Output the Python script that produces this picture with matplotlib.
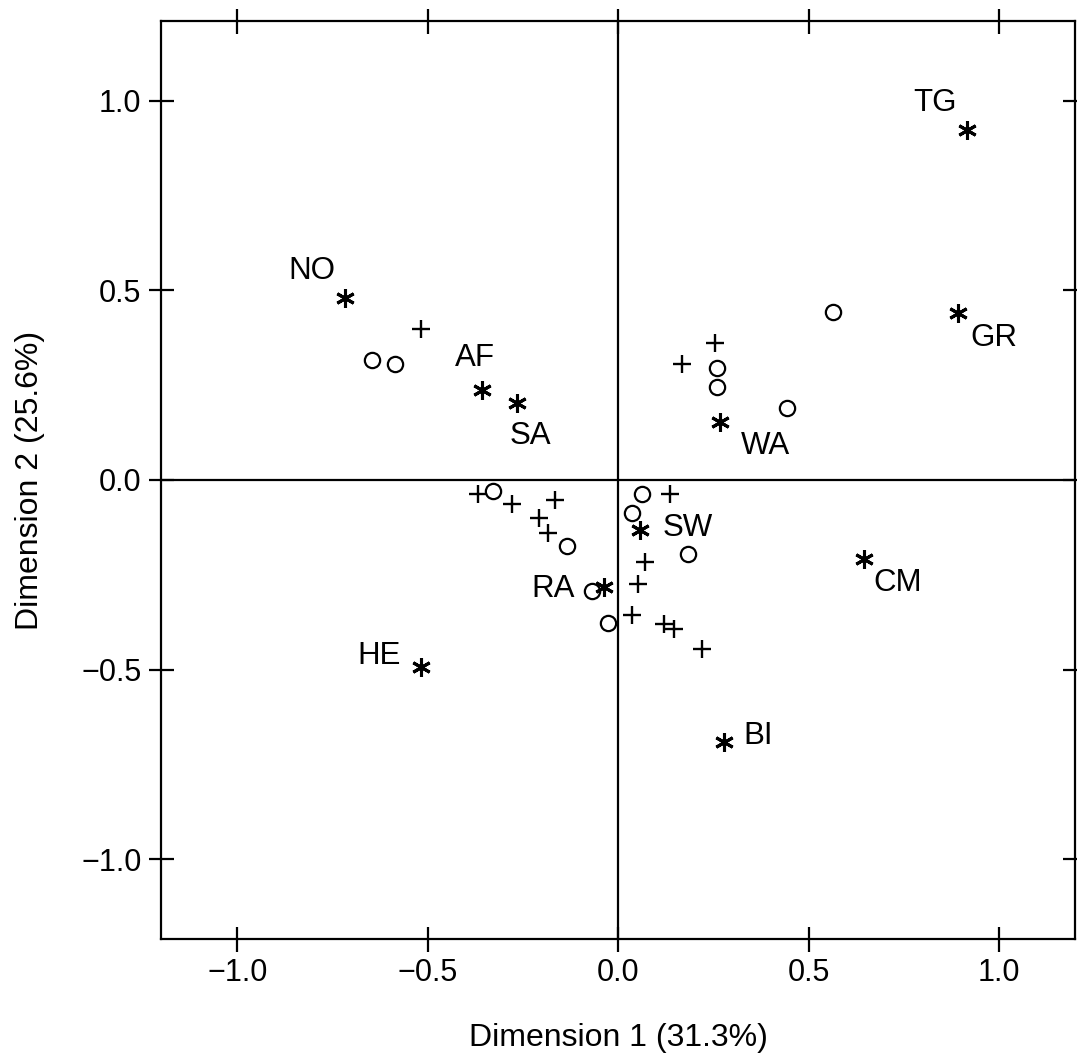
import matplotlib
matplotlib.use("Agg")
import matplotlib.pyplot as plt

plt.rcParams.update({
    "font.family": ["Liberation Sans", "DejaVu Sans"],
    "axes.unicode_minus": True,
})

# labelled points (asterisks)
star_names = ["TG", "NO", "AF", "SA", "WA", "GR", "SW", "CM", "RA", "HE", "BI"]
star_x = [0.915, -0.717, -0.357, -0.265, 0.268, 0.891, 0.058, 0.644, -0.036, -0.518, 0.279]
star_y = [0.922, 0.481, 0.238, 0.203, 0.153, 0.441, -0.133, -0.208, -0.282, -0.494, -0.692]
# label offsets in pixels (dx, dy)
label_dx = [-32, -33, -7, 13, 45, 36, 47, 34, -51, -42, 34]
label_dy = [27, 27, 32, -33, -24, -25, 2, -24, -2, 11, 6]

# plus points
plus_x = [-0.518, 0.255, 0.168, 0.137, -0.368, -0.279, -0.166, -0.208, -0.184,
          0.071, 0.053, 0.037, 0.121, 0.147, 0.221]
plus_y = [0.399, 0.362, 0.306, -0.037, -0.037, -0.064, -0.053, -0.101, -0.139,
          -0.217, -0.275, -0.357, -0.380, -0.394, -0.447]

# open circle points
circ_x = [-0.647, -0.586, 0.565, 0.260, 0.260, 0.442, 0.184, -0.329, -0.134,
          -0.068, -0.026, 0.063, 0.037]
circ_y = [0.317, 0.306, 0.444, 0.296, 0.246, 0.190, -0.196, -0.029, -0.175,
          -0.293, -0.378, -0.037, -0.087]

ticks = [-1.0, -0.5, 0.0, 0.5, 1.0]

fig = plt.figure(figsize=(10.77, 10.56), dpi=100)
ax = fig.add_axes([0.1495, 0.111, 0.849, 0.869])

ax.axhline(0, color="black", lw=1.6, zorder=1)
ax.axvline(0, color="black", lw=1.6, zorder=1)

ax.plot(circ_x, circ_y, "o", ms=11, mfc="none", mec="black", mew=1.6, ls="none")
ax.plot(plus_x, plus_y, "+", ms=13, mec="black", mew=1.7, ls="none")
ax.plot(star_x, star_y, marker=(6, 2, 0), ms=13.5, mec="black", mew=2.2, ls="none")

for name, x, y, dx, dy in zip(star_names, star_x, star_y, label_dx, label_dy):
    ax.annotate(name, (x, y), xytext=(dx, dy), textcoords="offset pixels",
                ha="center", va="center", fontsize=22.5)

ax.set_xlim(-1.2, 1.2)
ax.set_ylim(-1.21, 1.21)
ax.set_xticks(ticks)
ax.set_yticks(ticks)
ax.set_xticklabels([f"{t:.1f}".replace("-", "\u2212") for t in ticks])
ax.set_yticklabels([f"{t:.1f}".replace("-", "\u2212") for t in ticks])

ax.tick_params(direction="inout", length=18, width=1.6, labelsize=22,
               top=True, right=True, pad=5)
for s in ax.spines.values():
    s.set_linewidth(1.6)

ax.set_xlabel("Dimension 1 (31.3%)", fontsize=23)
ax.set_ylabel("Dimension 2 (25.6%)", fontsize=23)
ax.xaxis.label.set_va("center")
ax.yaxis.label.set_va("center")
ax.xaxis.set_label_coords(0.5, -0.1079)
ax.yaxis.set_label_coords(-0.1433, 0.5)

fig.savefig("out.png", dpi=100)
